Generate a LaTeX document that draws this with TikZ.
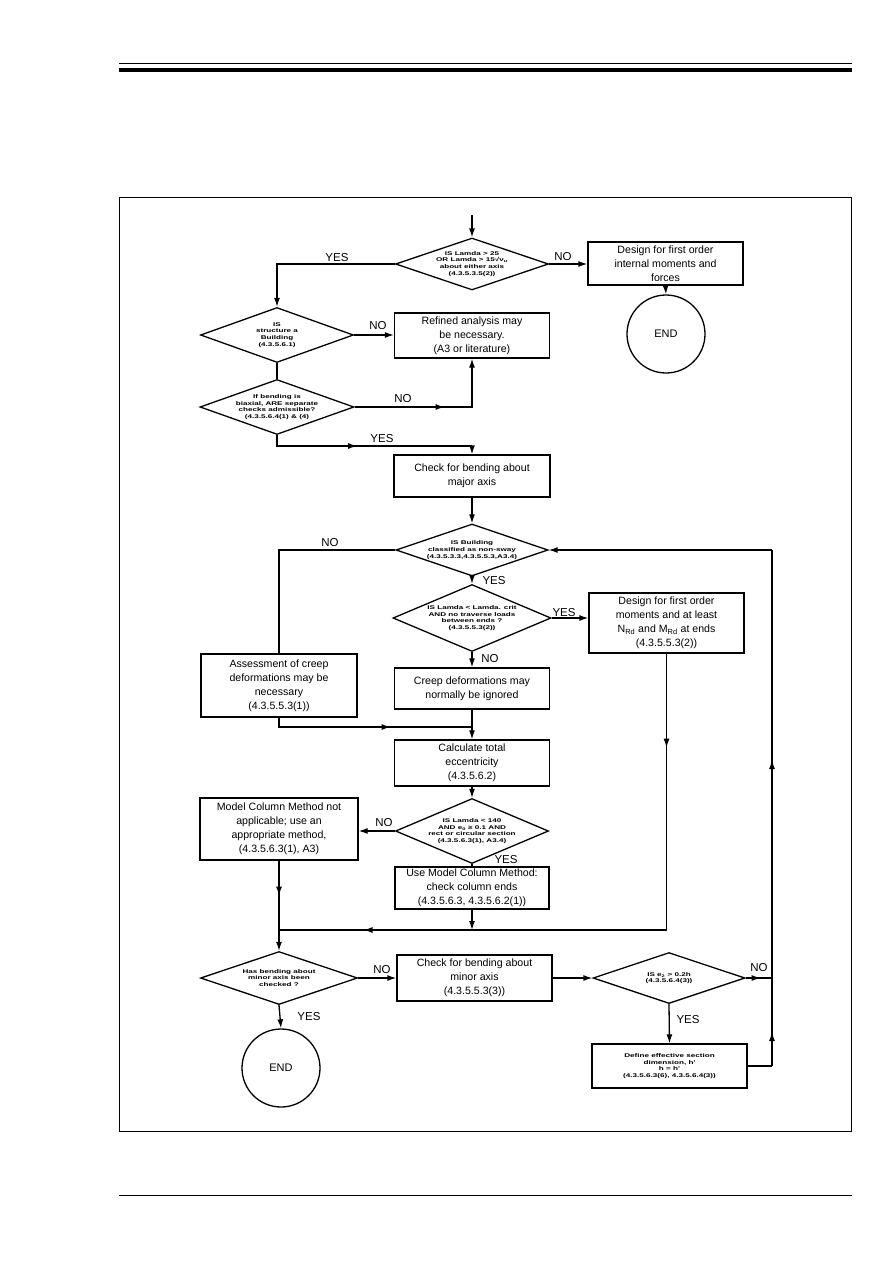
\documentclass[tikz,border=0pt]{standalone}
\usepackage{fontspec}
\setmainfont{Liberation Sans}
\newfontfamily\dfont{Liberation Sans Bold}[FakeStretch=1.5]
\usetikzlibrary{arrows.meta,shapes.geometric,decorations.markings}
\tikzset{
  >={Latex[length=9pt,width=6pt]},
  flow/.style={line width=1.3pt},
  box/.style={draw, line width=1.3pt, align=center, inner sep=0pt, font=\fontsize{10.6}{14}\selectfont},
  dia/.style={draw, diamond, line width=1.3pt, inner sep=0pt, aspect=3},
  dtext/.style={align=center, inner sep=0pt, font=\dfont\fontsize{5.4}{6.8}\selectfont},
  term/.style={draw, circle, line width=1.3pt, inner sep=0pt, minimum size=78pt, font=\fontsize{11}{14}\selectfont},
  lbl/.style={font=\fontsize{11.5}{13}\selectfont, inner sep=0pt},
  midarr/.style={postaction={decorate}, decoration={markings, mark=at position #1 with {\arrow{Latex[length=9pt,width=6pt]}}}},
}
\begin{document}
\begin{tikzpicture}[x=1pt,y=-1pt]
\useasboundingbox (0,0) rectangle (893,1263);
% page rules and frame
\draw[line width=1pt] (119,63.5) -- (852,63.5);
\draw[line width=3.5pt] (119,70) -- (852,70);
\draw[line width=1pt] (119.5,197) rectangle (851.5,1131);
\draw[line width=1pt] (119,1195) -- (852,1195);

% diamonds
\node[dia, minimum width=153pt, minimum height=52pt] (d1) at (472,264) {};
\node[dtext] (d1t) at (472,264) {IS Lamda > 25\\ OR Lamda > 15√ν\textsubscript{u}\\ about either axis\\ (4.3.5.3.5(2))};
\node[dia, minimum width=153pt, minimum height=55pt] (d2) at (277,335) {};
\node[dtext] (d2t) at (277,335) {IS\\ structure a\\ Building\\ (4.3.5.6.1)};
\node[dia, minimum width=154pt, minimum height=55pt] (d3) at (277,407) {};
\node[dtext] (d3t) at (277,407) {If bending is\\ biaxial, ARE separate\\ checks admissible?\\ (4.3.5.6.4(1) \& (4)};
\node[dia, minimum width=152pt, minimum height=52pt] (d4) at (472,550) {};
\node[dtext] (d4t) at (472,550) {IS Building\\ classified as non-sway\\ (4.3.5.3.3,4.3.5.5.3,A3.4)};
\node[dia, minimum width=158pt, minimum height=67pt] (d5) at (472,618) {};
\node[dtext] (d5t) at (472,618) {IS Lamda < Lamda. crit\\ AND no traverse loads\\ between ends ?\\ (4.3.5.5.3(2))};
\node[dia, minimum width=153pt, minimum height=65pt] (d6) at (472,831) {};
\node[dtext] (d6t) at (472,831) {IS Lamda < 140\\ AND e\textsubscript{0} ≥ 0.1 AND\\ rect or circular section\\ (4.3.5.6.3(1), A3.4)};
\node[dia, minimum width=157pt, minimum height=53pt] (d7) at (279,978) {};
\node[dtext] (d7t) at (279,978) {Has bending about\\ minor axis been\\ checked ?};
\node[dia, minimum width=152pt, minimum height=51pt] (d8) at (669,978) {};
\node[dtext] (d8t) at (669,978) {IS e\textsubscript{2} > 0.2h\\ (4.3.5.6.4(3))};

% boxes
\node[box, minimum width=155pt, minimum height=43pt] (b1) at (665.5,263.5) {Design for first order\\ internal moments and\\ forces};
\node[box, minimum width=155pt, minimum height=45pt] (b2) at (472,335.5) {Refined analysis may\\ be necessary.\\ (A3 or literature)};
\node[box, minimum width=156pt, minimum height=42pt] (b3) at (472,476) {Check for bending about\\ major axis};
\node[box, minimum width=155pt, minimum height=60pt] (b5) at (666.5,623) {Design for first order\\ moments and at least\\ N\textsubscript{Rd} and M\textsubscript{Rd} at ends\\ (4.3.5.5.3(2))};
\node[box, minimum width=156pt, minimum height=63pt] (b4) at (279,685.5) {Assessment of creep\\ deformations may be\\ necessary\\ (4.3.5.5.3(1))};
\node[box, minimum width=155pt, minimum height=41pt] (b6) at (472,688.5) {Creep deformations may\\ normally be ignored};
\node[box, minimum width=155pt, minimum height=46pt] (b7) at (472,763) {Calculate total\\ eccentricity\\ (4.3.5.6.2)};
\node[box, minimum width=158pt, minimum height=62pt] (b8) at (279,829) {Model Column Method not\\ applicable; use an\\ appropriate method,\\ (4.3.5.6.3(1), A3)};
\node[box, minimum width=154pt, minimum height=42pt] (b9) at (472,888) {Use Model Column Method:\\ check column ends\\ (4.3.5.6.3, 4.3.5.6.2(1))};
\node[box, minimum width=155pt, minimum height=46pt] (b10) at (474.5,978) {Check for bending about\\ minor axis\\ (4.3.5.5.3(3))};
\node[box, minimum width=155pt, minimum height=44pt, font=\dfont\fontsize{5.4}{6.8}\selectfont] (b11) at (669.5,1066) {Define effective section\\ dimension, h'\\ h = h'\\ (4.3.5.6.3(6), 4.3.5.6.4(3))};

% terminals
\node[term] (end1) at (666,334) {END};
\node[term] (end2) at (281,1068) {END};

% coordinates
\coordinate (start) at (472,215);
\coordinate (j3) at (472,446);
\coordinate (j7) at (472,727);
\coordinate (j9) at (472,930);
\coordinate (j5) at (666.5,930);
\coordinate (j0) at (279,930);
\coordinate (jr) at (772,978);
\coordinate (jr2) at (772,1066);
\coordinate (jr3) at (772,550);

% connectors
\draw[flow,->] (start) -- (d1.north);
\draw[flow,->] (d1.west) -| (d2.north);
\draw[flow,->] (d1.east) -- (d1.east -| b1.west);
\draw[flow,->] (b1.south) -- (end1.north);
\draw[flow,->] (d2.east) -- (d2.east -| b2.west);
\draw[flow] (d2.south) -- (d3.north);
\draw[flow,->,midarr=90pt] (d3.east) -| (b2.south);
\draw[flow,midarr=91pt] (d3.south) |- (j3);
\draw[flow,->] (j3) -- (b3.north);
\draw[flow,->] (b3.south) -- (d4.north);
\draw[flow] (d4.west) -| (b4.north);
\draw[flow,->] (d4.south) -- (d5.north);
\draw[flow,->] (d5.east) -- (d5.east -| b5.west);
\draw[flow,->] (d5.south) -- (b6.north);
\draw[flow,midarr=121pt] (b4.south) |- (j7);
\draw[flow,->] (b6.south) -- (b7.north);
\draw[flow,->] (b7.south) -- (d6.north);
\draw[flow,->] (d6.west) -- (d6.west -| b8.east);
\draw[flow] (d6.south) -- (b9.north);
\draw[flow,->] (b9.south) -- (j9);
\draw[flow,midarr=94pt] (b5.south) -- (j5);
\draw[flow,midarr=303pt] (j5) -- (j0);
\draw[flow,->,midarr=35pt] (b8.south) -- (d7.north);
\draw[flow,->] (d7.east) -- (b10.west);
\draw[flow,->] (b10.east) -- (d8.west);
\draw[flow,midarr=15pt] (d8.east) -- (jr);
\draw[flow] (b11.east) -- (jr2);
\draw[flow,midarr=34pt] (jr2) -- (jr);
\draw[flow,midarr=218pt] (jr) -- (jr3);
\draw[flow,->] (jr3) -- (d4.east);
\draw[flow,->] (d8.south) -- (b11.north);
\draw[flow,->] (d7.south) -- (end2.north);

% labels
\node[lbl] (l1) at (337,258) {YES};
\node[lbl] (l2) at (563,257) {NO};
\node[lbl] (l3) at (378,326) {NO};
\node[lbl] (l4) at (403,399) {NO};
\node[lbl] (l5) at (382,439) {YES};
\node[lbl] (l6) at (330,543) {NO};
\node[lbl] (l7) at (494,581) {YES};
\node[lbl] (l8) at (564,613) {YES};
\node[lbl] (l9) at (490,659) {NO};
\node[lbl] (l10) at (384,823) {NO};
\node[lbl] (l11) at (506,860) {YES};
\node[lbl] (l12) at (382,970) {NO};
\node[lbl] (l13) at (309,1017) {YES};
\node[lbl] (l14) at (759,968) {NO};
\node[lbl] (l15) at (688,1020) {YES};
\end{tikzpicture}
\end{document}
